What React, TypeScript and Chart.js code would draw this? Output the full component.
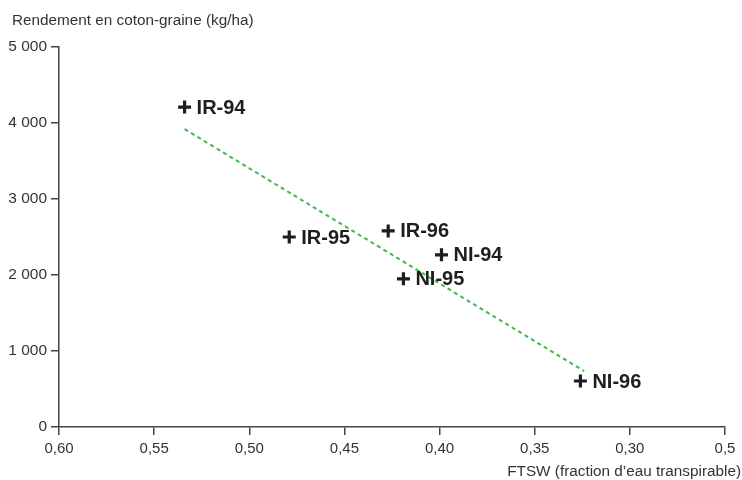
import React, { useEffect, useRef } from "react";
import { Chart, registerables } from "chart.js";

Chart.register(...registerables);

const pointNames = ["IR-94", "IR-95", "IR-96", "NI-94", "NI-95", "NI-96"];
const ftswValues = [0.534, 0.479, 0.427, 0.399, 0.419, 0.326];
const yieldValues = [4210, 2500, 2580, 2265, 1950, 605];

const trendX = [0.534, 0.324];
const trendY = [3920, 735];

const xTickValues = [0.6, 0.55, 0.5, 0.45, 0.4, 0.35, 0.3, 0.25];
const xTickLabels = ["0,60", "0,55", "0,50", "0,45", "0,40", "0,35", "0,30", "0,5"];
const yTickValues = [0, 1000, 2000, 3000, 4000, 5000];
const yTickLabels = ["0", "1 000", "2 000", "3 000", "4 000", "5 000"];

const yTitle = "Rendement en coton-graine (kg/ha)";
const xTitle = "FTSW (fraction d\u2019eau transpirable)";

const FONT = "'Liberation Sans', Arial, Helvetica, sans-serif";

const labelPlugin = {
  id: "pointLabels",
  afterDatasetsDraw(chart: any) {
    const ctx = chart.ctx;
    const meta = chart.getDatasetMeta(0);
    ctx.save();
    ctx.font = `bold 20px ${FONT}`;
    ctx.fillStyle = "#1e1e1e";
    ctx.textAlign = "left";
    ctx.textBaseline = "middle";
    meta.data.forEach((el: any, i: number) => {
      ctx.fillText(pointNames[i], el.x + 12, el.y + 1);
    });
    ctx.restore();
  },
  afterDraw(chart: any) {
    const ctx = chart.ctx;
    ctx.save();
    ctx.font = `15.3px ${FONT}`;
    ctx.fillStyle = "#333";
    ctx.textBaseline = "middle";
    ctx.textAlign = "left";
    ctx.fillText(yTitle, 12, 21);
    ctx.textAlign = "right";
    ctx.fillText(xTitle, 741, 472);
    ctx.restore();
  },
};

export default function App() {
  const ref = useRef<HTMLCanvasElement | null>(null);
  useEffect(() => {
    if (!ref.current) return;
    const chart = new Chart(ref.current, {
      type: "scatter",
      data: {
        datasets: [
          {
            data: ftswValues.map((x, i) => ({ x, y: yieldValues[i] })),
            pointStyle: "cross",
            pointRadius: 6.5,
            pointHoverRadius: 6.5,
            pointBorderWidth: 3.2,
            borderColor: "#1e1e1e",
            backgroundColor: "#1e1e1e",
            showLine: false,
          },
          {
            data: trendX.map((x, i) => ({ x, y: trendY[i] })),
            showLine: true,
            borderColor: "#3dba4a",
            borderWidth: 2,
            borderDash: [4, 3.5],
            pointRadius: 0,
            fill: false,
          },
        ],
      },
      options: {
        responsive: false,
        animation: false,
        events: [],
        layout: { padding: { left: 0, right: 17, top: 47, bottom: 0 } },
        plugins: { legend: { display: false }, tooltip: { enabled: false } },
        scales: {
          x: {
            type: "linear",
            reverse: true,
            min: 0.25,
            max: 0.6,
            afterBuildTicks: (axis: any) => {
              axis.ticks = xTickValues.map((v) => ({ value: v }));
            },
            afterFit: (axis: any) => {
              axis.height = 53;
            },
            ticks: {
              autoSkip: false,
              maxRotation: 0,
              padding: 5,
              color: "#333",
              font: { family: FONT, size: 15 },
              callback: (v: any) => {
                const idx = xTickValues.findIndex((t) => Math.abs(t - Number(v)) < 1e-6);
                return idx >= 0 ? xTickLabels[idx] : "";
              },
            },
            grid: {
              drawOnChartArea: false,
              drawTicks: true,
              tickLength: 8,
              color: "#444",
              lineWidth: 1.5,
            },
            border: { display: true, color: "#444", width: 1.5 },
          },
          y: {
            type: "linear",
            min: 0,
            max: 5000,
            afterBuildTicks: (axis: any) => {
              axis.ticks = yTickValues.map((v) => ({ value: v }));
            },
            afterFit: (axis: any) => {
              axis.width = 59;
            },
            ticks: {
              autoSkip: false,
              padding: 4,
              color: "#333",
              font: { family: FONT, size: 15.5 },
              callback: (v: any) => {
                const idx = yTickValues.findIndex((t) => Math.abs(t - Number(v)) < 1e-6);
                return idx >= 0 ? yTickLabels[idx] : "";
              },
            },
            grid: {
              drawOnChartArea: false,
              drawTicks: true,
              tickLength: 8,
              color: "#444",
              lineWidth: 1.5,
            },
            border: { display: true, color: "#444", width: 1.5 },
          },
        },
      },
      plugins: [labelPlugin],
    } as any);
    return () => chart.destroy();
  }, []);
  return (
    <div style={{ position: "absolute", left: 0, top: 0, width: 742, height: 480, background: "#fff" }}>
      <canvas ref={ref} width={742} height={480} style={{ width: 742, height: 480, display: "block" }} />
    </div>
  );
}
